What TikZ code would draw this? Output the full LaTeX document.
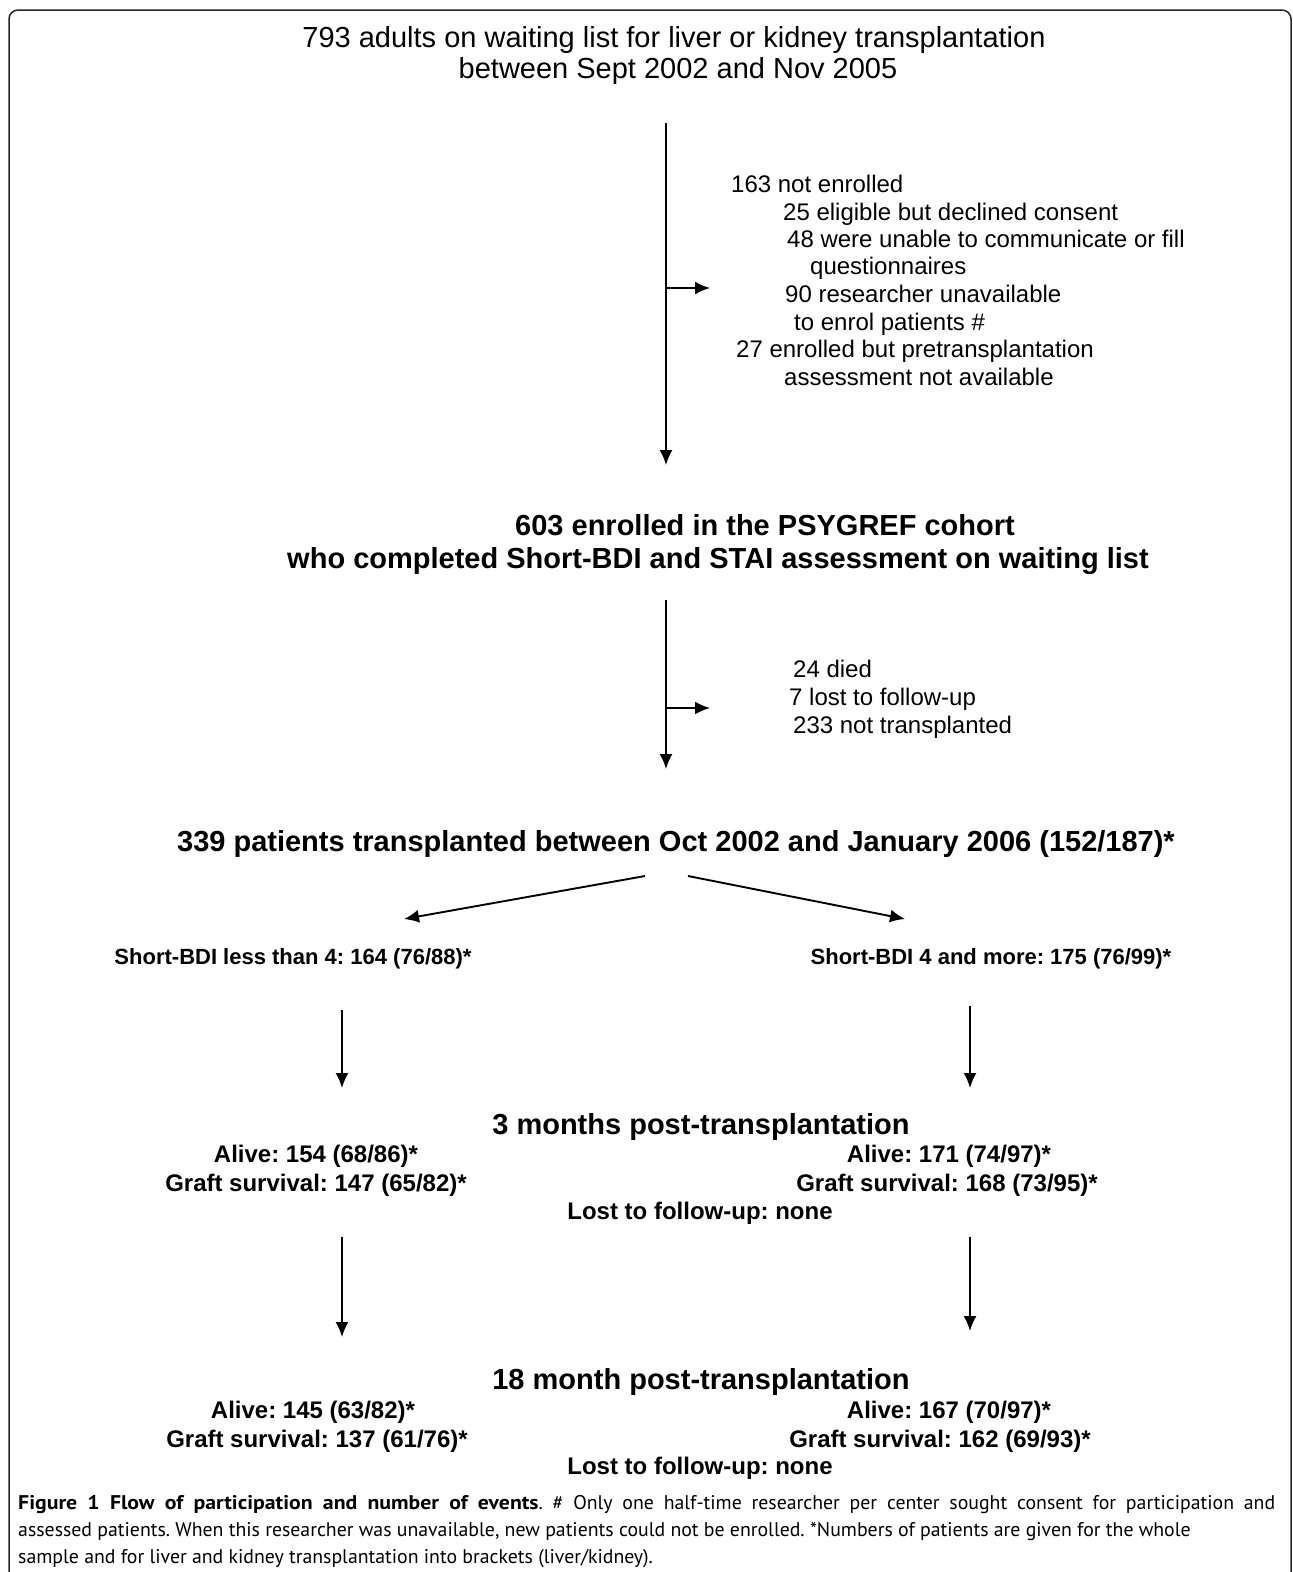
\documentclass[tikz,border=0pt]{standalone}
\usepackage{fontspec}
\setmainfont{Liberation Sans}
\newfontfamily\capfont[BoldFeatures={FakeStretch=1.1}]{PT Sans}
\usetikzlibrary{arrows.meta}
\frenchspacing
\begin{document}
\begin{tikzpicture}[x=1pt,y=-1pt,
  arr/.style={line width=1.9pt,-{Latex[length=15pt,width=13pt]}},
  ttl/.style={font=\fontsize{29}{33}\selectfont, anchor=base, inner sep=0},
  hdb/.style={font=\fontsize{29}{33}\selectfont\bfseries, anchor=base, inner sep=0},
  side/.style={font=\fontsize{24}{28}\selectfont, anchor=base west, inner sep=0},
  grp/.style={font=\fontsize{22}{26}\selectfont\bfseries, anchor=base, inner sep=0},
  stat/.style={font=\fontsize{24}{28}\selectfont\bfseries, anchor=base, inner sep=0},
  captext/.style={font=\capfont\fontsize{19.8}{27}\selectfont, anchor=base west, inner sep=0},
]
\useasboundingbox (0,0) rectangle (1293,1572);
\begin{scope}
\clip (0,0) rectangle (1293,1572);
\draw[line width=1.5pt, black!85, rounded corners=9pt] (9,1620) -- (9,10) -- (1291,10) -- (1291,1620);
\end{scope}

% top title
\node[ttl] (t1) at (674,47) {793 adults on waiting list for liver or kidney transplantation};
\node[ttl] (t2) at (678,78) {between Sept 2002 and Nov 2005};

% not enrolled
\node[side] (n1) at (731,192) {163 not enrolled};
\node[side] (n2) at (783,220) {25 eligible but declined consent};
\node[side] (n3) at (787,247) {48 were unable to communicate or fill};
\node[side] (n4) at (810,274) {questionnaires};
\node[side] (n5) at (785,302) {90 researcher unavailable};
\node[side] (n6) at (794,330) {to enrol patients \#};
\node[side] (n7) at (736,357) {27 enrolled but pretransplantation};
\node[side] (n8) at (784,385) {assessment not available};

% enrolled
\node[hdb] (e1) at (765,535) {603 enrolled in the PSYGREF cohort};
\node[hdb] (e2) at (718,568) {who completed Short-BDI and STAI assessment on waiting list};

% exclusions
\node[side] (d1) at (793,677) {24 died};
\node[side] (d2) at (789,705) {7 lost to follow-up};
\node[side] (d3) at (793,733) {233 not transplanted};

% transplanted
\node[hdb] (tp) at (676,851) {339 patients transplanted between Oct 2002 and January 2006 (152/187)*};
\node[grp] (gl) at (293,964) {Short-BDI less than 4: 164 (76/88)*};
\node[grp] (gr) at (991,964) {Short-BDI 4 and more: 175 (76/99)*};

% 3 months
\node[hdb] (m3) at (701,1134) {3 months post-transplantation};
\node[stat] (m3la) at (316,1162) {Alive: 154 (68/86)*};
\node[stat] (m3lg) at (316,1191) {Graft survival: 147 (65/82)*};
\node[stat] (m3ra) at (949,1162) {Alive: 171 (74/97)*};
\node[stat] (m3rg) at (947,1191) {Graft survival: 168 (73/95)*};
\node[stat] (m3lost) at (700,1219) {Lost to follow-up: none};

% 18 months
\node[hdb] (m18) at (701,1389) {18 month post-transplantation};
\node[stat] (m18la) at (313,1418) {Alive: 145 (63/82)*};
\node[stat] (m18lg) at (317,1447) {Graft survival: 137 (61/76)*};
\node[stat] (m18ra) at (949,1418) {Alive: 167 (70/97)*};
\node[stat] (m18rg) at (940,1447) {Graft survival: 162 (69/93)*};
\node[stat] (m18lost) at (700,1474) {Lost to follow-up: none};

% caption
\node[captext] (c1) at (18,1509) {\makebox[1257pt][s]{\textbf{Figure 1 Flow of participation and number of events}. \# Only one half-time researcher per center sought consent for participation and}};
\node[captext] (c2) at (18,1536) {assessed patients. When this researcher was unavailable, new patients could not be enrolled. *Numbers of patients are given for the whole};
\node[captext] (c3) at (18,1563) {sample and for liver and kidney transplantation into brackets (liver/kidney).};

% connectors
\coordinate (a1s) at (666,123); \coordinate (a1e) at (666,465);
\coordinate (b1s) at (666,288); \coordinate (b1e) at (710,288);
\coordinate (a2s) at (666,600); \coordinate (a2e) at (666,769);
\coordinate (b2s) at (666,708); \coordinate (b2e) at (710,708);
\coordinate (dls) at (645,876); \coordinate (dle) at (404,919);
\coordinate (drs) at (688,876); \coordinate (dre) at (905,919);
\coordinate (vl1s) at (342,1010); \coordinate (vl1e) at (342,1088);
\coordinate (vr1s) at (970,1006); \coordinate (vr1e) at (970,1088);
\coordinate (vl2s) at (342,1237); \coordinate (vl2e) at (342,1337);
\coordinate (vr2s) at (970,1237); \coordinate (vr2e) at (970,1331);

\draw[arr] (a1s) -- (a1e);
\draw[arr] (b1s) -- (b1e);
\draw[arr] (a2s) -- (a2e);
\draw[arr] (b2s) -- (b2e);
\draw[arr] (dls) -- (dle);
\draw[arr] (drs) -- (dre);
\draw[arr] (vl1s) -- (vl1e);
\draw[arr] (vr1s) -- (vr1e);
\draw[arr] (vl2s) -- (vl2e);
\draw[arr] (vr2s) -- (vr2e);
\end{tikzpicture}
\end{document}
